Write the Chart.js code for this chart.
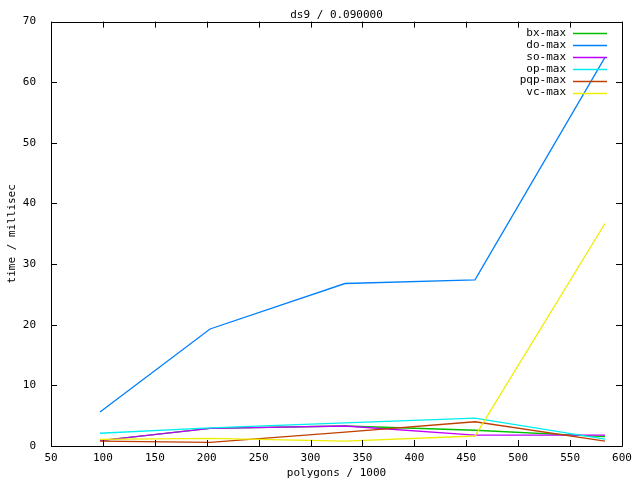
<!DOCTYPE html>
<html><head><meta charset="utf-8">
<script src="https://cdn.jsdelivr.net/npm/chart.js@4/dist/chart.umd.min.js"></script>
<style>html,body{margin:0;padding:0;background:#fff}#wrap{width:640px;height:480px}</style>
</head><body><div id="wrap"><canvas id="c" width="640" height="480"></canvas></div>
<script>
const xValues = [97.2, 203.2, 333.2, 458.4, 583.6];
const bxMax  = [0.9, 2.9, 3.3, 2.6, 1.55];
const doMax  = [5.6, 19.3, 26.8, 27.4, 64.1];
const soMax  = [0.87, 2.9, 3.3, 1.8, 1.8];
const opMax  = [2.1, 3.0, 3.8, 4.6, 1.15];
const pqpMax = [0.82, 0.6, 2.3, 4.0, 0.82];
const vcMax  = [1.1, 1.26, 0.8, 1.65, 36.7];
const seriesNames = ['bx-max','do-max','so-max','op-max','pqp-max','vc-max'];
const seriesColors = ['#00c000','#0080ff','#c000ff','#00eeee','#c04000','#eeee00'];
const titleText = 'ds9 / 0.090000';
const xTitle = 'polygons / 1000';
const yTitle = 'time / millisec';

const FONT = '"DejaVu Sans Mono", monospace';
const seriesData = [bxMax, doMax, soMax, opMax, pqpMax, vcMax];
const datasets = seriesData.map((arr, i) => ({
  label: seriesNames[i],
  data: arr.map((v, j) => ({x: xValues[j], y: v})),
  borderColor: seriesColors[i],
  backgroundColor: seriesColors[i],
  borderWidth: 1.3,
  pointRadius: 0,
  tension: 0,
  fill: false,
  order: seriesData.length - i
}));

const gnuplotDecor = {
  id: 'gnuplotDecor',
  afterDraw(chart) {
    const ctx = chart.ctx, a = chart.chartArea;
    const xs = chart.scales.x, ys = chart.scales.y;
    ctx.save();
    ctx.strokeStyle = '#000';
    ctx.lineWidth = 1;
    ctx.beginPath();
    ctx.rect(Math.round(a.left)+0.5, Math.round(a.top)+0.5, Math.round(a.right-a.left), Math.round(a.bottom-a.top));
    const T = 6;
    xs.ticks.forEach(t => {
      const px = Math.round(xs.getPixelForValue(t.value)) + 0.5;
      ctx.moveTo(px, a.bottom); ctx.lineTo(px, a.bottom - T);
      ctx.moveTo(px, a.top); ctx.lineTo(px, a.top + T);
    });
    ys.ticks.forEach(t => {
      const py = Math.round(ys.getPixelForValue(t.value)) + 0.5;
      ctx.moveTo(a.left, py); ctx.lineTo(a.left + T, py);
      ctx.moveTo(a.right, py); ctx.lineTo(a.right - T, py);
    });
    ctx.stroke();
    // title
    ctx.fillStyle = '#000';
    ctx.font = '11px ' + FONT;
    ctx.textAlign = 'center';
    ctx.textBaseline = 'middle';
    ctx.fillText(titleText, (a.left + a.right) / 2, 15);
    // legend
    ctx.textAlign = 'right';
    chart.data.datasets.forEach((ds, i) => {
      const y = 33 + i * 11.9;
      ctx.fillStyle = '#000';
      ctx.fillText(ds.label, 566, y);
      ctx.strokeStyle = ds.borderColor;
      ctx.lineWidth = 1.3;
      ctx.beginPath();
      ctx.moveTo(573, Math.round(y) + 0.5);
      ctx.lineTo(607, Math.round(y) + 0.5);
      ctx.stroke();
    });
    ctx.restore();
  }
};

new Chart(document.getElementById('c'), {
  type: 'line',
  data: { datasets },
  options: {
    responsive: false,
    animation: false,
    layout: { padding: { top: 21, right: 18, left: 0, bottom: 0 } },
    plugins: { legend: { display: false }, title: { display: false }, tooltip: { enabled: false } },
    scales: {
      x: {
        type: 'linear', min: 50, max: 600,
        ticks: { stepSize: 50, color: '#000', font: { family: FONT, size: 11 }, padding: 6, maxRotation: 0, autoSkip: false },
        grid: { drawOnChartArea: false, drawTicks: false, display: false },
        border: { display: false },
        title: { display: true, text: xTitle, color: '#000', font: { family: FONT, size: 11 }, padding: { top: 0, bottom: 0 } },
        afterFit(s) { s.height = 34; }
      },
      y: {
        type: 'linear', min: 0, max: 70,
        ticks: { stepSize: 10, color: '#000', font: { family: FONT, size: 11 }, padding: 15 },
        grid: { drawOnChartArea: false, drawTicks: false, display: false },
        border: { display: false },
        title: { display: true, text: yTitle, color: '#000', font: { family: FONT, size: 11 }, padding: { top: 6, bottom: 0 } },
        afterFit(s) { s.width = 51; }
      }
    }
  },
  plugins: [gnuplotDecor]
});
</script></body></html>
